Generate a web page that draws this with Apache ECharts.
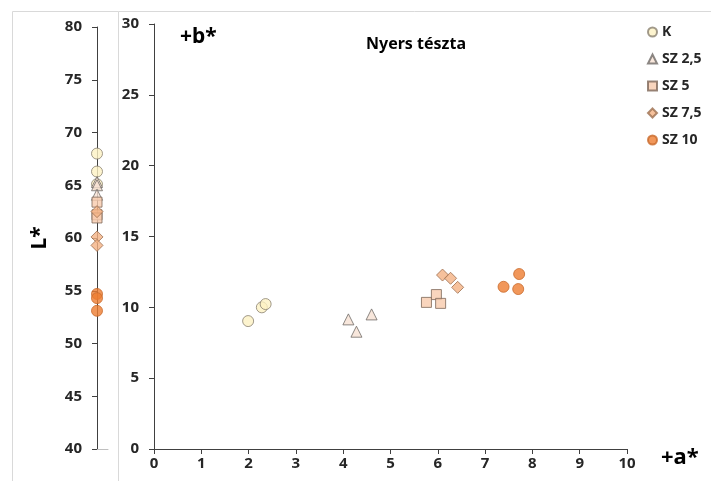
<!DOCTYPE html>
<html>
<head>
<meta charset="utf-8">
<script src="https://cdn.jsdelivr.net/npm/echarts@6/dist/echarts.min.js"></script>
<style>
  html, body { margin: 0; padding: 0; background: #fff; }
  #chart { width: 711px; height: 481px; }
</style>
</head>
<body>
<div id="chart"></div>
<script>
// Sample groups (legend order)
const groups = ['K', 'SZ 2,5', 'SZ 5', 'SZ 7,5', 'SZ 10'];

// a* (red-green) values per group
const aValues = [
  [1.99, 2.28, 2.36],
  [4.11, 4.28, 4.60],
  [5.76, 5.97, 6.06],
  [6.10, 6.27, 6.42],
  [7.39, 7.72, 7.70]
];

// b* (yellow-blue) values per group
const bValues = [
  [9.03, 10.00, 10.23],
  [9.15, 8.28, 9.50],
  [10.35, 10.90, 10.28],
  [12.28, 12.05, 11.41],
  [11.45, 12.35, 11.29]
];

// L* (lightness) values per group
const lValues = [
  [68.0, 66.3, 65.1],
  [65.3, 65.0, 64.1],
  [63.4, 62.2, 61.9],
  [62.5, 60.1, 59.3],
  [54.7, 54.3, 53.1]
];

// Axis ranges [min, max, interval]
const aTicks = [0, 10, 1];
const bTicks = [0, 30, 5];
const lTicks = [40, 80, 5];

const markerStyle = [
  { symbol: 'circle',   size: 11, fill: '#fdf1c3', border: '#8a8170' },
  { symbol: 'triangle', size: 11, fill: '#f6e1d3', border: '#6f6a66' },
  { symbol: 'rect',     size: 10, fill: '#f8cbad', border: '#7d6657' },
  { symbol: 'diamond',  size: 12, fill: '#f4b183', border: '#9c6f50' },
  { symbol: 'circle',   size: 11, fill: '#ed7d31', border: '#c8692b' }
];

const FONT = 'Noto Sans';
const TEXT = '#262626';

const series = [];
groups.forEach((name, i) => {
  const st = markerStyle[i];
  const itemStyle = { color: st.fill, borderColor: st.border, borderWidth: 1 };
  // L* strip
  series.push({
    name, type: 'scatter', xAxisIndex: 0, yAxisIndex: 0,
    symbol: st.symbol, symbolSize: st.size, itemStyle,
    data: lValues[i].map(v => [0, v])
  });
  // a*-b* plane
  series.push({
    name, type: 'scatter', xAxisIndex: 1, yAxisIndex: 1,
    symbol: st.symbol, symbolSize: st.size, itemStyle,
    data: aValues[i].map((a, k) => [a, bValues[i][k]])
  });
});

const boldLabel = (size) => ({ fontFamily: FONT, fontWeight: 'bold', fontSize: size, color: TEXT });

const chart = echarts.init(document.getElementById('chart'));
chart.setOption({
  animation: false,
  textStyle: { fontFamily: FONT },
  graphic: [
    { type: 'rect', shape: { x: 12.5, y: 11.5, width: 106, height: 470 },
      style: { fill: 'none', stroke: '#d9d9d9', lineWidth: 1 }, silent: true },
    { type: 'line', shape: { x1: 118.5, y1: 11.5, x2: 711, y2: 11.5 },
      style: { stroke: '#d9d9d9', lineWidth: 1 }, silent: true }
  ],
  title: [
    { text: '+b*', left: 175, top: 22,
      textStyle: { fontFamily: FONT, fontWeight: 'bold', fontSize: 21, color: '#000' } },
    { text: 'Nyers tészta', left: 361, top: 31,
      textStyle: { fontFamily: FONT, fontWeight: 'bold', fontSize: 16, color: '#000' } },
    { text: '+a*', left: 656, top: 442,
      textStyle: { fontFamily: FONT, fontWeight: 'bold', fontSize: 22, color: '#000' } }
  ],
  legend: {
    orient: 'vertical', left: 642, top: 18,
    itemWidth: 9, itemHeight: 9, itemGap: 9,
    textStyle: Object.assign(boldLabel(14), { lineHeight: 18 }),
    data: groups
  },
  grid: [
    { left: 97, top: 27, width: 11, bottom: 32 },
    { left: 154, top: 24, right: 84, bottom: 32 }
  ],
  xAxis: [
    { gridIndex: 0, type: 'value', min: 0, max: 1,
      axisLine: { show: true, lineStyle: { color: '#bfbfbf' } },
      axisTick: { show: false }, axisLabel: { show: false }, splitLine: { show: false } },
    { gridIndex: 1, type: 'value', min: aTicks[0], max: aTicks[1], interval: aTicks[2],
      axisLine: { show: true, lineStyle: { color: '#404040', width: 1 } },
      axisTick: { show: true, length: 5, lineStyle: { color: '#404040' } },
      axisLabel: Object.assign({ margin: 7 }, boldLabel(15)),
      splitLine: { show: false } }
  ],
  yAxis: [
    { gridIndex: 0, type: 'value', min: lTicks[0], max: lTicks[1], interval: lTicks[2],
      name: 'L*', nameLocation: 'middle', nameRotate: 90, nameGap: 46,
      nameTextStyle: { fontFamily: FONT, fontWeight: 'bold', fontSize: 21, color: '#000' },
      axisLine: { show: true, onZero: false, lineStyle: { color: '#404040', width: 1 } },
      axisTick: { show: true, length: 5, lineStyle: { color: '#404040' } },
      axisLabel: Object.assign({ margin: 15 }, boldLabel(15)),
      splitLine: { show: false } },
    { gridIndex: 1, type: 'value', min: bTicks[0], max: bTicks[1], interval: bTicks[2],
      axisLine: { show: true, onZero: false, lineStyle: { color: '#404040', width: 1 } },
      axisTick: { show: true, length: 5, lineStyle: { color: '#404040' } },
      axisLabel: Object.assign({ margin: 15 }, boldLabel(15)),
      splitLine: { show: false } }
  ],
  series
});
</script>
</body>
</html>
